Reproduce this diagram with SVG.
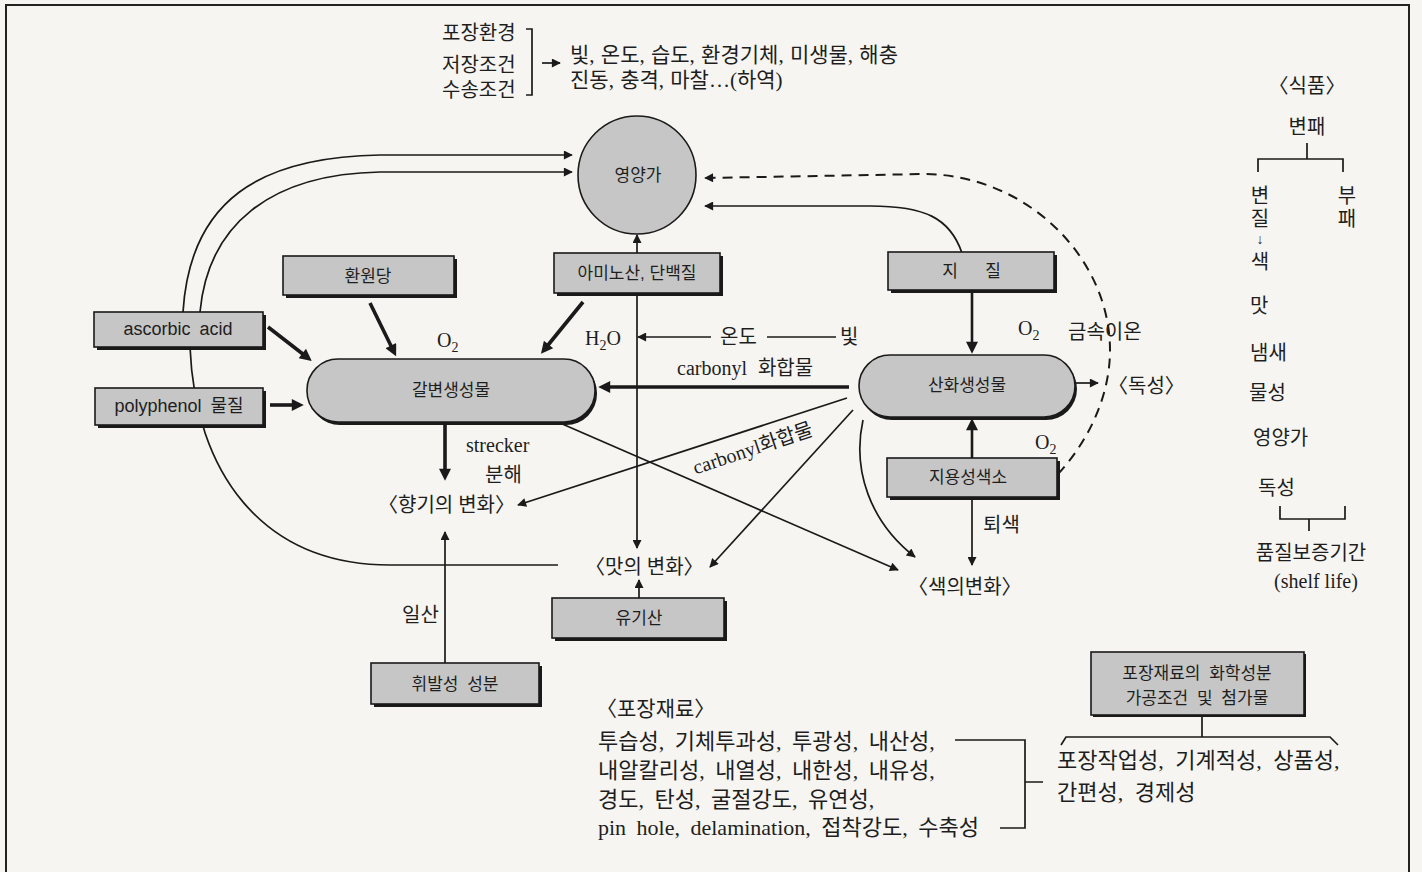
<svg xmlns="http://www.w3.org/2000/svg" width="1422" height="872" viewBox="0 0 1422 872">
<style>
.s{font-family:'Liberation Serif','Noto Sans CJK KR',serif;font-size:20px;fill:#1e1e1e}
.b{font-family:'Liberation Sans','Noto Sans CJK KR',sans-serif;font-size:17px;fill:#1e1e1e;text-anchor:middle}
.m{text-anchor:middle}
.box{fill:#c6c6c6;stroke:#1a1a1a;stroke-width:1.6}
.sh{fill:#1a1a1a}
.ln{fill:none;stroke:#1a1a1a;stroke-width:1.7}
.th{fill:none;stroke:#1a1a1a;stroke-width:3.6}
.md{fill:none;stroke:#1a1a1a;stroke-width:2.6}
.da{fill:none;stroke:#1a1a1a;stroke-width:2;stroke-dasharray:10 7}
.bt{font-size:22px;word-spacing:5px}
</style>
<defs>
<marker id="ah" viewBox="0 0 10 10" refX="9" refY="5" markerWidth="14" markerHeight="9" markerUnits="userSpaceOnUse" orient="auto"><path d="M0,0 L10,5 L0,10 z" fill="#1a1a1a"/></marker>
<marker id="ahb" viewBox="0 0 10 10" refX="6" refY="5" markerWidth="16" markerHeight="12" markerUnits="userSpaceOnUse" orient="auto"><path d="M0,0 L10,5 L0,10 z" fill="#1a1a1a"/></marker>
</defs>
<rect width="1422" height="872" fill="#f6f5f1"/>
<path d="M6,872 V5 H1409 V872" fill="none" stroke="#222" stroke-width="2"/>

<g id="connectors">
<path class="ln" d="M183,312 C190,200 260,157 380,155 L572,155" marker-end="url(#ah)"/>
<path class="ln" d="M200,312 C208,225 270,174 380,172 L572,172" marker-end="url(#ah)"/>
<path class="ln" d="M190,347 C195,470 260,565 390,565 L558,565"/>
<path class="th" d="M268,327 L308,358" marker-end="url(#ahb)"/>
<path class="th" d="M270,405 L299,405" marker-end="url(#ahb)"/>
<path class="th" d="M370,303 L394,352" marker-end="url(#ahb)"/>
<path class="th" d="M583,302 L544,350" marker-end="url(#ahb)"/>
<path class="ln" d="M637,253 L637,235" marker-end="url(#ah)"/>
<path class="ln" d="M637,293 L637,548" marker-end="url(#ah)"/>
<path class="ln" d="M711,337 L638,337" marker-end="url(#ah)"/>
<path class="ln" d="M767,337 L836,337"/>
<path class="th" d="M849,387 L603,387" marker-end="url(#ahb)"/>
<path class="th" d="M445,423 L445,476" marker-end="url(#ahb)"/>
<path class="ln" d="M445,663 L445,532" marker-end="url(#ah)"/>
<path class="ln" d="M639,598 L639,580" marker-end="url(#ah)"/>
<path class="ln" d="M847,398 L518,505" marker-end="url(#ah)"/>
<path class="ln" d="M853,410 L710,567" marker-end="url(#ah)"/>
<path class="ln" d="M863,420 C852,470 870,522 915,557" marker-end="url(#ah)"/>
<path class="ln" d="M560,423 L898,570" marker-end="url(#ah)"/>
<path class="md" d="M972,290 L972,349" marker-end="url(#ahb)"/>
<path class="md" d="M972,458 L972,423" marker-end="url(#ahb)"/>
<path class="ln" d="M972,497 L972,565" marker-end="url(#ah)"/>
<path class="ln" d="M1075,383 L1098,383" marker-end="url(#ah)"/>
<path class="ln" d="M962,253 C950,218 925,206 870,206 L705,206" marker-end="url(#ah)"/>
<path class="da" d="M1058,474 C1085,445 1110,400 1110,350 C1110,260 1030,176 926,174 L705,178" marker-end="url(#ah)"/>
<path class="ln" d="M542,63 L560,63" marker-end="url(#ah)"/>
<path class="ln" d="M526,29 H532 V95 H526"/>
<path class="ln" d="M1258,172 V159 H1343 V172 M1307,143 V159"/>
<path class="ln" d="M1280,506 V519 H1345 V506 M1309,519 V531"/>
<path class="ln" d="M955,740 H1025 V828 H1000 M1025,782 H1043"/>
<path class="ln" d="M1202,716 V737 M1061,745 L1066,737 H1330 L1338,745"/>
</g>

<g id="n-yeongyang"><circle cx="637" cy="175" r="59" class="box" stroke-width="2"/><text class="b" x="638" y="181">영양가</text></g>
<g id="n-hwanwondang"><rect class="sh" x="286" y="259" width="171" height="39"/><rect class="box" x="283" y="256" width="171" height="39"/><text class="b" x="368" y="282">환원당</text></g>
<g id="n-ascorbic"><rect class="sh" x="97" y="315" width="169" height="35"/><rect class="box" x="94" y="312" width="169" height="35"/><text class="b" x="178" y="335" style="font-size:18px;word-spacing:4px">ascorbic acid</text></g>
<g id="n-polyphenol"><rect class="sh" x="98" y="391" width="168" height="37"/><rect class="box" x="95" y="388" width="168" height="37"/><text class="b" x="179" y="412" style="font-size:18px;word-spacing:4px">polyphenol 물질</text></g>
<g id="n-galbyeon"><rect class="sh" x="309" y="362" width="288" height="63" rx="31"/><rect class="box" x="307" y="359" width="288" height="63" rx="31" stroke-width="2"/><text class="b" x="451" y="396">갈변생성물</text></g>
<g id="n-amino"><rect class="sh" x="557" y="256" width="166" height="40"/><rect class="box" x="554" y="253" width="166" height="40"/><text class="b" x="637" y="279">아미노산, 단백질</text></g>
<g id="n-jijil"><rect class="sh" x="891" y="255" width="166" height="38"/><rect class="box" x="888" y="252" width="166" height="38"/><text class="b" x="950" y="277">지</text><text class="b" x="993" y="277">질</text></g>
<g id="n-sanhwa"><rect class="sh" x="861" y="358" width="216" height="62" rx="31"/><rect class="box" x="859" y="355" width="216" height="62" rx="31" stroke-width="2"/><text class="b" x="967" y="391">산화생성물</text></g>
<g id="n-jiyong"><rect class="sh" x="890" y="461" width="170" height="39"/><rect class="box" x="887" y="458" width="170" height="39"/><text class="b" x="968" y="483">지용성색소</text></g>
<g id="n-yugisan"><rect class="sh" x="555" y="601" width="172" height="40"/><rect class="box" x="552" y="598" width="172" height="40"/><text class="b" x="639" y="624">유기산</text></g>
<g id="n-hwibal"><rect class="sh" x="374" y="666" width="168" height="41"/><rect class="box" x="371" y="663" width="168" height="41"/><text class="b" x="455" y="690" style="word-spacing:4px">휘발성 성분</text></g>
<g id="n-pojang"><rect class="sh" x="1093" y="654" width="213" height="63"/><rect class="box" x="1091" y="652" width="213" height="63"/><text class="b" x="1197" y="679" style="word-spacing:4px">포장재료의 화학성분</text><text class="b" x="1197" y="704" style="word-spacing:4px">가공조건 및 첨가물</text></g>

<g id="labels">
<text class="s" x="442" y="40">포장환경</text>
<text class="s" x="442" y="72">저장조건</text>
<text class="s" x="442" y="97">수송조건</text>
<text class="s" x="570" y="62" style="font-size:21px;word-spacing:1px">빛, 온도, 습도, 환경기체, 미생물, 해충</text>
<text class="s" x="570" y="87" style="font-size:21px;word-spacing:1px">진동, 충격, 마찰…(하역)</text>

<text class="s m" x="1307" y="93">〈식품〉</text>
<text class="s m" x="1307" y="134">변패</text>
<text class="s m" x="1260" y="203">변</text>
<text class="s m" x="1260" y="226">질</text>
<text class="s m" x="1260" y="244" style="font-size:14px">↓</text>
<text class="s m" x="1260" y="269">색</text>
<text class="s m" x="1347" y="203">부</text>
<text class="s m" x="1347" y="226">패</text>
<text class="s" x="1250" y="313">맛</text>
<text class="s" x="1250" y="360">냄새</text>
<text class="s" x="1249" y="400">물성</text>
<text class="s" x="1253" y="445">영양가</text>
<text class="s" x="1258" y="495">독성</text>
<text class="s m" x="1311" y="560">품질보증기간</text>
<text class="s m" x="1316" y="588">(shelf  life)</text>

<text class="s" x="437" y="347">O<tspan dy="5" style="font-size:14px">2</tspan></text>
<text class="s" x="585" y="345">H<tspan dy="5" style="font-size:14px">2</tspan><tspan dy="-5">O</tspan></text>
<text class="s" x="720" y="344">온도</text>
<text class="s" x="840" y="344">빛</text>
<text class="s" x="677" y="375" style="word-spacing:6px">carbonyl 화합물</text>
<text class="s m" transform="translate(753,449) rotate(-18.5)" y="6">carbonyl화합물</text>
<text class="s" x="466" y="452">strecker</text>
<text class="s" x="485" y="482">분해</text>
<text class="s" x="378" y="512">〈향기의 변화〉</text>
<text class="s" x="585" y="574">〈맛의 변화〉</text>
<text class="s" x="908" y="594">〈색의변화〉</text>
<text class="s" x="402" y="622">일산</text>
<text class="s" x="983" y="532">퇴색</text>
<text class="s" x="1018" y="335">O<tspan dy="5" style="font-size:14px">2</tspan></text>
<text class="s" x="1035" y="449">O<tspan dy="5" style="font-size:14px">2</tspan></text>
<text class="s" x="1068" y="339">금속이온</text>
<text class="s" x="1108" y="393">〈독성〉</text>

<text class="s" x="596" y="716" style="font-size:21px">〈포장재료〉</text>
<text class="s bt" x="598" y="749">투습성, 기체투과성, 투광성, 내산성,</text>
<text class="s bt" x="598" y="778">내알칼리성, 내열성, 내한성, 내유성,</text>
<text class="s bt" x="598" y="807">경도, 탄성, 굴절강도, 유연성,</text>
<text class="s bt" x="598" y="835">pin hole, delamination, 접착강도, 수축성</text>
<text class="s" x="1057" y="768" style="font-size:22px;word-spacing:6px">포장작업성, 기계적성, 상품성,</text>
<text class="s" x="1057" y="800" style="font-size:22px;word-spacing:6px">간편성, 경제성</text>
</g>
</svg>
